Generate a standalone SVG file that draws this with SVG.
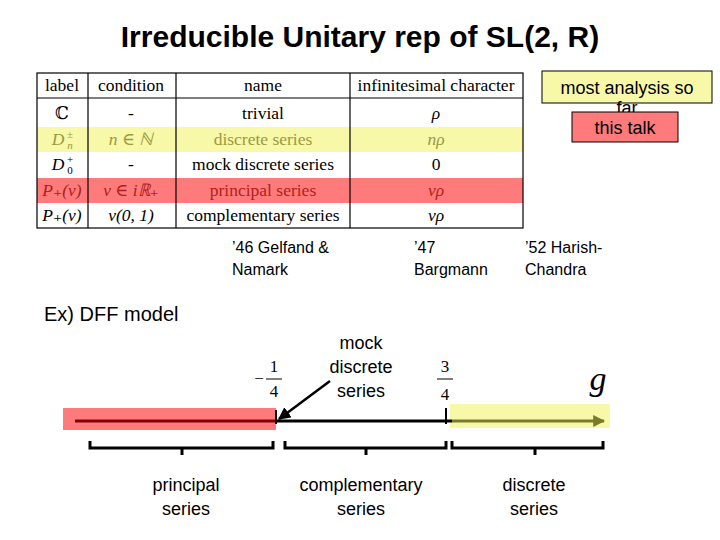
<svg xmlns="http://www.w3.org/2000/svg" width="720" height="540" viewBox="0 0 720 540">
<defs>
<style>
.s{font-family:"Liberation Sans",Arial,sans-serif;font-size:18px;fill:#000}
.m{font-family:"Liberation Serif","DejaVu Serif",serif;font-size:17.5px;text-anchor:middle}
.g{stroke:#000;stroke-width:1.2}
.b{fill:none;stroke:#000;stroke-width:3}
</style>
<marker id="ah" viewBox="0 0 10 10" refX="9" refY="5" markerWidth="5" markerHeight="5" orient="auto"><path d="M0,0L10,5L0,10z" fill="#000"/></marker>
<marker id="ag" viewBox="0 0 10 10" refX="9" refY="5" markerWidth="4" markerHeight="4" orient="auto"><path d="M0,0L10,5L0,10z" fill="#7a7a2a"/></marker>
</defs>
<rect width="720" height="540" fill="#fff"/>
<text x="360" y="47" text-anchor="middle" style="font-family:'Liberation Sans',Arial,sans-serif;font-size:30px;font-weight:bold">Irreducible Unitary rep of SL(2, R)</text>
<g id="table">
<rect x="37" y="127" width="486" height="25" fill="#f7f8a8"/>
<rect x="37" y="178" width="486" height="25" fill="#ff7b7b"/>
<rect x="37" y="73" width="486" height="155" fill="none" class="g"/>
<line x1="37" y1="98" x2="523" y2="98" class="g" stroke-width="2"/>
<line x1="88" y1="73" x2="88" y2="228" class="g"/>
<line x1="176" y1="73" x2="176" y2="228" class="g"/>
<line x1="350" y1="73" x2="350" y2="228" class="g"/>
<g class="m">
<text x="62" y="91">label</text><text x="131" y="91">condition</text><text x="263" y="91">name</text><text x="436" y="91">infinitesimal character</text>
<text x="62" y="119">ℂ</text><text x="131" y="119">-</text><text x="263" y="119">trivial</text><text x="436" y="119" font-style="italic">ρ</text>
<text x="58" y="145" fill="#9a9a40" font-style="italic">D</text><text x="70" y="138" fill="#9a9a40" font-size="11">±</text><text x="70" y="149" fill="#9a9a40" font-size="11" font-style="italic">n</text>
<text x="131" y="145" fill="#9a9a40" font-style="italic">n ∈ ℕ</text><text x="263" y="145" fill="#9a9a40">discrete series</text><text x="436" y="145" fill="#9a9a40" font-style="italic">nρ</text>
<text x="58" y="170" font-style="italic">D</text><text x="70" y="163" font-size="11">+</text><text x="70" y="174" font-size="11">0</text>
<text x="131" y="170">-</text><text x="263" y="170">mock discrete series</text><text x="436" y="170">0</text>
<text x="62" y="196" fill="#b02020" font-style="italic">P₊(ν)</text><text x="131" y="196" fill="#b02020" font-style="italic">ν ∈ iℝ₊</text><text x="263" y="196" fill="#b02020">principal series</text><text x="436" y="196" fill="#b02020" font-style="italic">νρ</text>
<text x="62" y="221" font-style="italic">P₊(ν)</text><text x="131" y="221" font-style="italic">ν(0, 1)</text><text x="263" y="221">complementary series</text><text x="436" y="221" font-style="italic">νρ</text>
</g>
</g>
<g id="note1"><rect x="542" y="71" width="170" height="32" fill="#f7f8a8" stroke="#000"/><text x="627" y="94" class="s" text-anchor="middle">most analysis so</text><text x="627" y="114" class="s" text-anchor="middle" font-size="14">far</text></g>
<g id="note2"><rect x="572" y="112" width="106" height="30" fill="#ff7b7b" stroke="#000"/><text x="625" y="134" class="s" text-anchor="middle">this talk</text></g>
<g class="s" font-size="16">
<text x="232" y="253" style="font-size:16px">’46 Gelfand &amp;</text><text x="232" y="275" style="font-size:16px">Namark</text>
<text x="414" y="253" style="font-size:16px">’47</text><text x="414" y="275" style="font-size:16px">Bargmann</text>
<text x="525" y="253" style="font-size:16px">’52 Harish-</text><text x="525" y="275" style="font-size:16px">Chandra</text>
</g>
<text x="44" y="321" class="s" style="font-size:20px">Ex) DFF model</text>
<g id="line">
<rect x="63" y="408" width="213" height="22" fill="#ff7b7b"/>
<rect x="450" y="404" width="160" height="24" fill="#f7f8a8"/>
<line x1="75" y1="421" x2="276" y2="421" stroke="#800000" stroke-width="3"/>
<line x1="276" y1="421" x2="452" y2="421" stroke="#000" stroke-width="3"/>
<line x1="452" y1="421" x2="604" y2="421" stroke="#7a7a2a" stroke-width="3" marker-end="url(#ag)"/>
<line x1="276" y1="410" x2="276" y2="424" stroke="#000" stroke-width="2"/>
<line x1="446" y1="408" x2="446" y2="424" stroke="#000" stroke-width="2"/>
</g>
<g font-family="Liberation Serif,serif" font-size="17" text-anchor="middle">
<text x="259" y="384">−</text><text x="274" y="372">1</text><line x1="266" y1="379" x2="282" y2="379" stroke="#000"/><text x="274" y="397">4</text>
<text x="445" y="372">3</text><line x1="437" y1="379" x2="453" y2="379" stroke="#000"/><text x="445" y="400">4</text>
<text x="598" y="390" font-size="34" font-style="italic">g</text>
</g>
<g class="s" text-anchor="middle" style="font-size:18px">
<text x="361" y="349">mock</text><text x="361" y="373">discrete</text><text x="361" y="397">series</text>
</g>
<g id="connectors">
<line x1="330" y1="381" x2="279" y2="419" stroke="#000" stroke-width="2.5" marker-end="url(#ah)"/>
<path class="b" d="M90,441V448H273V441M182,448V455"/>
<path class="b" d="M285,441V448H446V441M366,448V455"/>
<path class="b" d="M452,441V448H603V441M535,448V455"/>
</g>
<g class="s" text-anchor="middle">
<text x="186" y="491">principal</text><text x="186" y="515">series</text>
<text x="361" y="491">complementary</text><text x="361" y="515">series</text>
<text x="534" y="491">discrete</text><text x="534" y="515">series</text>
</g>
</svg>
